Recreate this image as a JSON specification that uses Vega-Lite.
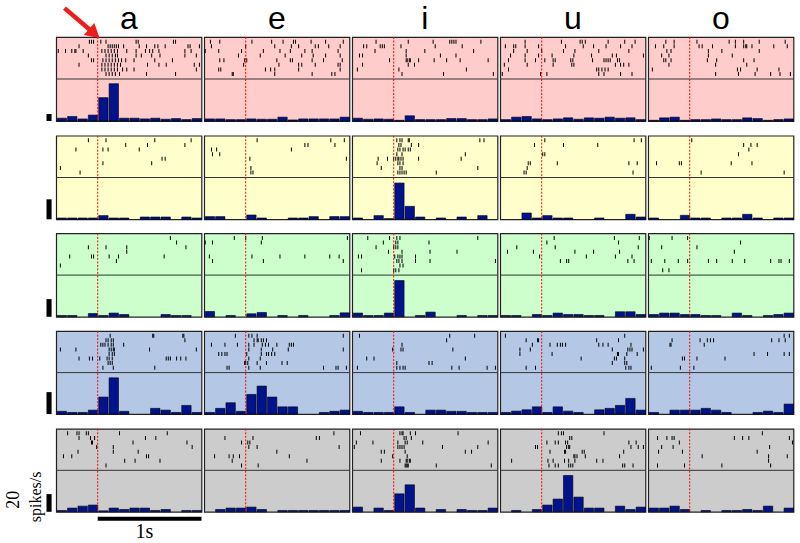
{
"$schema":"https://vega.github.io/schema/vega-lite/v6.json",
"autosize":{"type":"pad"},
"padding":{"left":3.2,"top":2,"right":2,"bottom":2},
"background":"white",
"spacing":10.7,
"datasets":{
"d1":[
{"v":"a","p":1},{"v":"e","p":1},{"v":"i","p":1},{"v":"u","p":1},{"v":"o","p":1},
{"v":"a","c":-0.35,"h":8},{"v":"a","c":-0.25,"h":13},{"v":"a","c":-0.15,"h":6},{"v":"a","c":-0.05,"h":17},{"v":"a","c":0.05,"h":67},{"v":"a","c":0.15,"h":107},{"v":"a","c":0.25,"h":8},{"v":"a","c":0.35,"h":8},{"v":"a","c":0.45,"h":6},{"v":"a","c":0.55,"h":8},{"v":"a","c":0.65,"h":5},{"v":"a","c":0.75,"h":7},{"v":"a","c":0.85,"h":4},{"v":"a","c":0.95,"h":7},
{"v":"e","c":-0.35,"h":6},{"v":"e","c":-0.25,"h":6},{"v":"e","c":-0.15,"h":4},{"v":"e","c":-0.05,"h":4},{"v":"e","c":0.05,"h":6},{"v":"e","c":0.15,"h":5},{"v":"e","c":0.25,"h":5},{"v":"e","c":0.35,"h":11},{"v":"e","c":0.45,"h":3},{"v":"e","c":0.55,"h":6},{"v":"e","c":0.65,"h":6},{"v":"e","c":0.75,"h":6},{"v":"e","c":0.85,"h":6},{"v":"e","c":0.95,"h":11},
{"v":"i","c":-0.35,"h":8},{"v":"i","c":-0.25,"h":5},{"v":"i","c":-0.15,"h":6},{"v":"i","c":-0.05,"h":5},{"v":"i","c":0.05,"h":2},{"v":"i","c":0.15,"h":15},{"v":"i","c":0.25,"h":4},{"v":"i","c":0.35,"h":4},{"v":"i","c":0.45,"h":4},{"v":"i","c":0.55,"h":7},{"v":"i","c":0.65,"h":7},{"v":"i","c":0.75,"h":4},{"v":"i","c":0.85,"h":4},{"v":"i","c":0.95,"h":6},
{"v":"u","c":-0.35,"h":4},{"v":"u","c":-0.25,"h":11},{"v":"u","c":-0.15,"h":13},{"v":"u","c":-0.05,"h":6},{"v":"u","c":0.05,"h":4},{"v":"u","c":0.15,"h":6},{"v":"u","c":0.25,"h":9},{"v":"u","c":0.35,"h":5},{"v":"u","c":0.45,"h":9},{"v":"u","c":0.55,"h":8},{"v":"u","c":0.65,"h":11},{"v":"u","c":0.75,"h":8},{"v":"u","c":0.85,"h":9},{"v":"u","c":0.95,"h":4},
{"v":"o","c":-0.35,"h":2},{"v":"o","c":-0.25,"h":9},{"v":"o","c":-0.15,"h":11},{"v":"o","c":-0.05,"h":2},{"v":"o","c":0.05,"h":4},{"v":"o","c":0.15,"h":4},{"v":"o","c":0.25,"h":6},{"v":"o","c":0.35,"h":4},{"v":"o","c":0.45,"h":4},{"v":"o","c":0.55,"h":9},{"v":"o","c":0.65,"h":7},{"v":"o","c":0.75,"h":2},{"v":"o","c":0.85,"h":4},{"v":"o","c":0.95,"h":6},
{"v":"a","n":1,"t":-0.08},{"v":"a","n":1,"t":-0.06},{"v":"a","n":1,"t":-0.04},{"v":"a","n":1,"t":0.03},{"v":"a","n":1,"t":0.08},{"v":"a","n":1,"t":0.37},{"v":"a","n":1,"t":0.39},{"v":"a","n":1,"t":0.73},{"v":"a","n":1,"t":0.75},
{"v":"a","n":2,"t":-0.18},{"v":"a","n":2,"t":0.1},{"v":"a","n":2,"t":0.12},{"v":"a","n":2,"t":0.14},{"v":"a","n":2,"t":0.16},{"v":"a","n":2,"t":0.18},{"v":"a","n":2,"t":0.2},{"v":"a","n":2,"t":0.25},{"v":"a","n":2,"t":0.4},{"v":"a","n":2,"t":0.47},{"v":"a","n":2,"t":0.55},{"v":"a","n":2,"t":0.58},{"v":"a","n":2,"t":0.65},{"v":"a","n":2,"t":0.87},{"v":"a","n":2,"t":0.89},{"v":"a","n":2,"t":0.98},
{"v":"a","n":3,"t":-0.38},{"v":"a","n":3,"t":-0.31},{"v":"a","n":3,"t":-0.25},{"v":"a","n":3,"t":-0.22},{"v":"a","n":3,"t":-0.21},{"v":"a","n":3,"t":-0.14},{"v":"a","n":3,"t":0.04},{"v":"a","n":3,"t":0.07},{"v":"a","n":3,"t":0.1},{"v":"a","n":3,"t":0.13},{"v":"a","n":3,"t":0.16},{"v":"a","n":3,"t":0.19},{"v":"a","n":3,"t":0.28},{"v":"a","n":3,"t":0.37},{"v":"a","n":3,"t":0.46},{"v":"a","n":3,"t":0.5},{"v":"a","n":3,"t":0.53},{"v":"a","n":3,"t":0.59},{"v":"a","n":3,"t":0.84},{"v":"a","n":3,"t":0.9},
{"v":"a","n":4,"t":-0.09},{"v":"a","n":4,"t":0.08},{"v":"a","n":4,"t":0.11},{"v":"a","n":4,"t":0.14},{"v":"a","n":4,"t":0.17},{"v":"a","n":4,"t":0.19},{"v":"a","n":4,"t":0.37},{"v":"a","n":4,"t":0.42},{"v":"a","n":4,"t":0.52},{"v":"a","n":4,"t":0.6},{"v":"a","n":4,"t":0.84},{"v":"a","n":4,"t":0.95},
{"v":"a","n":5,"t":-0.06},{"v":"a","n":5,"t":-0.04},{"v":"a","n":5,"t":0.05},{"v":"a","n":5,"t":0.08},{"v":"a","n":5,"t":0.11},{"v":"a","n":5,"t":0.14},{"v":"a","n":5,"t":0.17},{"v":"a","n":5,"t":0.2},{"v":"a","n":5,"t":0.23},{"v":"a","n":5,"t":0.27},{"v":"a","n":5,"t":0.35},{"v":"a","n":5,"t":0.55},{"v":"a","n":5,"t":0.72},
{"v":"a","n":6,"t":-0.18},{"v":"a","n":6,"t":0.04},{"v":"a","n":6,"t":0.07},{"v":"a","n":6,"t":0.1},{"v":"a","n":6,"t":0.13},{"v":"a","n":6,"t":0.16},{"v":"a","n":6,"t":0.19},{"v":"a","n":6,"t":0.22},{"v":"a","n":6,"t":0.48},{"v":"a","n":6,"t":0.59},{"v":"a","n":6,"t":0.66},{"v":"a","n":6,"t":0.93},{"v":"a","n":6,"t":0.98},
{"v":"a","n":7,"t":0.04},{"v":"a","n":7,"t":0.07},{"v":"a","n":7,"t":0.1},{"v":"a","n":7,"t":0.13},{"v":"a","n":7,"t":0.16},{"v":"a","n":7,"t":0.19},{"v":"a","n":7,"t":0.24},{"v":"a","n":7,"t":0.28},{"v":"a","n":7,"t":0.35},{"v":"a","n":7,"t":0.95},
{"v":"a","n":8,"t":0.08},{"v":"a","n":8,"t":0.11},{"v":"a","n":8,"t":0.14},{"v":"a","n":8,"t":0.17},{"v":"a","n":8,"t":0.21},{"v":"a","n":8,"t":0.47},{"v":"a","n":8,"t":0.75},
{"v":"e","n":1,"t":-0.34},{"v":"e","n":1,"t":-0.25},{"v":"e","n":1,"t":0.06},{"v":"e","n":1,"t":0.25},{"v":"e","n":1,"t":0.36},{"v":"e","n":1,"t":0.46},{"v":"e","n":1,"t":0.48},{"v":"e","n":1,"t":0.63},{"v":"e","n":1,"t":0.77},{"v":"e","n":1,"t":0.94},
{"v":"e","n":2,"t":-0.33},{"v":"e","n":2,"t":0.0},{"v":"e","n":2,"t":0.28},{"v":"e","n":2,"t":0.44},{"v":"e","n":2,"t":0.51},{"v":"e","n":2,"t":0.67},{"v":"e","n":2,"t":0.7},{"v":"e","n":2,"t":0.8},{"v":"e","n":2,"t":0.91},
{"v":"e","n":3,"t":-0.39},{"v":"e","n":3,"t":-0.26},{"v":"e","n":3,"t":-0.04},{"v":"e","n":3,"t":0.17},{"v":"e","n":3,"t":0.33},{"v":"e","n":3,"t":0.43},{"v":"e","n":3,"t":0.57},{"v":"e","n":3,"t":0.64},{"v":"e","n":3,"t":0.89},
{"v":"e","n":4,"t":-0.07},{"v":"e","n":4,"t":0.14},{"v":"e","n":4,"t":0.38},{"v":"e","n":4,"t":0.54},{"v":"e","n":4,"t":0.65},{"v":"e","n":4,"t":0.77},{"v":"e","n":4,"t":0.91},
{"v":"e","n":5,"t":-0.25},{"v":"e","n":5,"t":-0.21},{"v":"e","n":5,"t":-0.01},{"v":"e","n":5,"t":0.01},{"v":"e","n":5,"t":0.3},{"v":"e","n":5,"t":0.43},{"v":"e","n":5,"t":0.45},{"v":"e","n":5,"t":0.64},{"v":"e","n":5,"t":0.75},{"v":"e","n":5,"t":0.93},
{"v":"e","n":6,"t":-0.02},{"v":"e","n":6,"t":0.32},{"v":"e","n":6,"t":0.51},{"v":"e","n":6,"t":0.54},{"v":"e","n":6,"t":0.67},{"v":"e","n":6,"t":0.89},{"v":"e","n":6,"t":0.91},
{"v":"e","n":7,"t":-0.26},{"v":"e","n":7,"t":-0.24},{"v":"e","n":7,"t":0.19},{"v":"e","n":7,"t":0.24},{"v":"e","n":7,"t":0.28},{"v":"e","n":7,"t":0.51},{"v":"e","n":7,"t":0.91},
{"v":"e","n":8,"t":-0.13},{"v":"e","n":8,"t":-0.12},{"v":"e","n":8,"t":0.28},{"v":"e","n":8,"t":0.64},{"v":"e","n":8,"t":0.83},{"v":"e","n":8,"t":0.86},
{"v":"i","n":1,"t":-0.17},{"v":"i","n":1,"t":0.14},{"v":"i","n":1,"t":0.38},{"v":"i","n":1,"t":0.54},{"v":"i","n":1,"t":0.56},{"v":"i","n":1,"t":0.58},{"v":"i","n":1,"t":0.6},{"v":"i","n":1,"t":0.84},
{"v":"i","n":2,"t":-0.29},{"v":"i","n":2,"t":-0.26},{"v":"i","n":2,"t":-0.13},{"v":"i","n":2,"t":-0.11},{"v":"i","n":2,"t":-0.09},{"v":"i","n":2,"t":0.07},{"v":"i","n":2,"t":0.4},{"v":"i","n":2,"t":0.66},
{"v":"i","n":3,"t":-0.18},{"v":"i","n":3,"t":0.12},{"v":"i","n":3,"t":0.3},{"v":"i","n":3,"t":0.77},
{"v":"i","n":4,"t":-0.33},{"v":"i","n":4,"t":-0.3},{"v":"i","n":4,"t":0.12},{"v":"i","n":4,"t":0.45},{"v":"i","n":4,"t":0.6},
{"v":"i","n":5,"t":-0.04},{"v":"i","n":5,"t":0.12},{"v":"i","n":5,"t":0.13},{"v":"i","n":5,"t":0.15},{"v":"i","n":5,"t":0.16},{"v":"i","n":5,"t":0.24},{"v":"i","n":5,"t":0.39},{"v":"i","n":5,"t":0.51},{"v":"i","n":5,"t":0.64},{"v":"i","n":5,"t":0.91},
{"v":"i","n":6,"t":-0.3},{"v":"i","n":6,"t":0.14},{"v":"i","n":6,"t":0.2},
{"v":"i","n":7,"t":-0.35},{"v":"i","n":7,"t":0.05},{"v":"i","n":7,"t":0.7},
{"v":"i","n":8,"t":0.08},{"v":"i","n":8,"t":0.48},{"v":"i","n":8,"t":0.96},
{"v":"u","n":1,"t":-0.16},{"v":"u","n":1,"t":0.19},{"v":"u","n":1,"t":0.37},{"v":"u","n":1,"t":0.39},{"v":"u","n":1,"t":0.42},{"v":"u","n":1,"t":0.64},{"v":"u","n":1,"t":0.8},{"v":"u","n":1,"t":0.9},
{"v":"u","n":2,"t":-0.35},{"v":"u","n":2,"t":-0.27},{"v":"u","n":2,"t":-0.25},{"v":"u","n":2,"t":-0.16},{"v":"u","n":2,"t":-0.03},{"v":"u","n":2,"t":0.23},{"v":"u","n":2,"t":0.4},{"v":"u","n":2,"t":0.5},{"v":"u","n":2,"t":0.62},{"v":"u","n":2,"t":0.76},{"v":"u","n":2,"t":0.87},
{"v":"u","n":3,"t":-0.27},{"v":"u","n":3,"t":-0.14},{"v":"u","n":3,"t":0.0},{"v":"u","n":3,"t":0.21},{"v":"u","n":3,"t":0.32},{"v":"u","n":3,"t":0.55},{"v":"u","n":3,"t":0.84},
{"v":"u","n":4,"t":-0.3},{"v":"u","n":4,"t":-0.16},{"v":"u","n":4,"t":-0.03},{"v":"u","n":4,"t":0.1},{"v":"u","n":4,"t":0.31},{"v":"u","n":4,"t":0.48},{"v":"u","n":4,"t":0.68},{"v":"u","n":4,"t":0.72},{"v":"u","n":4,"t":0.98},
{"v":"u","n":5,"t":-0.32},{"v":"u","n":5,"t":-0.16},{"v":"u","n":5,"t":-0.06},{"v":"u","n":5,"t":0.03},{"v":"u","n":5,"t":0.11},{"v":"u","n":5,"t":0.13},{"v":"u","n":5,"t":0.28},{"v":"u","n":5,"t":0.3},{"v":"u","n":5,"t":0.49},{"v":"u","n":5,"t":0.6},{"v":"u","n":5,"t":0.62},{"v":"u","n":5,"t":0.64},{"v":"u","n":5,"t":0.66},{"v":"u","n":5,"t":0.73},{"v":"u","n":5,"t":0.75},
{"v":"u","n":6,"t":-0.36},{"v":"u","n":6,"t":-0.14},{"v":"u","n":6,"t":0.11},{"v":"u","n":6,"t":0.29},{"v":"u","n":6,"t":0.31},{"v":"u","n":6,"t":0.71},{"v":"u","n":6,"t":0.76},{"v":"u","n":6,"t":0.79},{"v":"u","n":6,"t":0.84},
{"v":"u","n":7,"t":-0.32},{"v":"u","n":7,"t":0.53},{"v":"u","n":7,"t":0.55},{"v":"u","n":7,"t":0.58},{"v":"u","n":7,"t":0.61},{"v":"u","n":7,"t":0.64},
{"v":"u","n":8,"t":-0.38},{"v":"u","n":8,"t":-0.01},{"v":"u","n":8,"t":0.05},{"v":"u","n":8,"t":0.55},{"v":"u","n":8,"t":0.6},{"v":"u","n":8,"t":0.76},{"v":"u","n":8,"t":0.87},
{"v":"o","n":1,"t":-0.23},{"v":"o","n":1,"t":-0.15},{"v":"o","n":1,"t":0.07},{"v":"o","n":1,"t":0.38},{"v":"o","n":1,"t":0.44},{"v":"o","n":1,"t":0.52},{"v":"o","n":1,"t":0.67},{"v":"o","n":1,"t":0.92},
{"v":"o","n":2,"t":-0.33},{"v":"o","n":2,"t":-0.25},{"v":"o","n":2,"t":-0.15},{"v":"o","n":2,"t":0.09},{"v":"o","n":2,"t":0.12},{"v":"o","n":2,"t":0.22},{"v":"o","n":2,"t":0.44},{"v":"o","n":2,"t":0.52},{"v":"o","n":2,"t":0.54},{"v":"o","n":2,"t":0.55},{"v":"o","n":2,"t":0.6},{"v":"o","n":2,"t":0.81},{"v":"o","n":2,"t":0.94},
{"v":"o","n":3,"t":-0.22},{"v":"o","n":3,"t":-0.18},{"v":"o","n":3,"t":0.18},{"v":"o","n":3,"t":0.31},{"v":"o","n":3,"t":0.67},
{"v":"o","n":4,"t":-0.27},{"v":"o","n":4,"t":-0.2},{"v":"o","n":4,"t":0.18},{"v":"o","n":4,"t":0.41},
{"v":"o","n":5,"t":-0.25},{"v":"o","n":5,"t":-0.23},{"v":"o","n":5,"t":-0.18},{"v":"o","n":5,"t":0.17},{"v":"o","n":5,"t":0.26},{"v":"o","n":5,"t":0.52},{"v":"o","n":5,"t":0.62},
{"v":"o","n":6,"t":-0.2},{"v":"o","n":6,"t":0.25},{"v":"o","n":6,"t":0.55},
{"v":"o","n":7,"t":-0.36},{"v":"o","n":7,"t":0.46},{"v":"o","n":7,"t":0.49},{"v":"o","n":7,"t":0.65},{"v":"o","n":7,"t":0.86},
{"v":"o","n":8,"t":0.25},{"v":"o","n":8,"t":0.47},{"v":"o","n":8,"t":0.63},{"v":"o","n":8,"t":0.78},{"v":"o","n":8,"t":0.87},{"v":"o","n":8,"t":0.97}
],
"d2":[
{"v":"a","p":1},{"v":"e","p":1},{"v":"i","p":1},{"v":"u","p":1},{"v":"o","p":1},
{"v":"a","c":-0.35,"h":1.3},{"v":"a","c":-0.25,"h":1.3},{"v":"a","c":-0.15,"h":1.3},{"v":"a","c":-0.05,"h":1.3},{"v":"a","c":0.05,"h":3.7},{"v":"a","c":0.15,"h":1.3},{"v":"a","c":0.25,"h":1.3},{"v":"a","c":0.45,"h":2.3},{"v":"a","c":0.55,"h":2.3},{"v":"a","c":0.65,"h":2.3},{"v":"a","c":0.85,"h":2.3},{"v":"a","c":0.95,"h":1.3},
{"v":"e","c":-0.35,"h":2.7},{"v":"e","c":-0.25,"h":2.7},{"v":"e","c":0.05,"h":4.3},{"v":"e","c":0.15,"h":1.3},{"v":"e","c":0.45,"h":1.3},{"v":"e","c":0.55,"h":1.3},{"v":"e","c":0.65,"h":2.7},{"v":"e","c":0.85,"h":2.7},{"v":"e","c":0.95,"h":2.7},
{"v":"i","c":-0.35,"h":1.3},{"v":"i","c":-0.15,"h":3.7},{"v":"i","c":-0.05,"h":0.7},{"v":"i","c":0.05,"h":36.3},{"v":"i","c":0.15,"h":13},{"v":"i","c":0.25,"h":2.3},{"v":"i","c":0.45,"h":1.3},{"v":"i","c":0.65,"h":2.3},{"v":"i","c":0.85,"h":3.7},
{"v":"u","c":-0.15,"h":6.3},{"v":"u","c":-0.05,"h":1.3},{"v":"u","c":0.05,"h":3.7},{"v":"u","c":0.15,"h":1.3},{"v":"u","c":0.25,"h":1.3},{"v":"u","c":0.55,"h":1.3},{"v":"u","c":0.85,"h":5},{"v":"u","c":0.95,"h":2.3},
{"v":"o","c":-0.35,"h":1.3},{"v":"o","c":-0.05,"h":4},{"v":"o","c":0.05,"h":1.3},{"v":"o","c":0.15,"h":1.3},{"v":"o","c":0.35,"h":1.3},{"v":"o","c":0.45,"h":1.3},{"v":"o","c":0.55,"h":5},{"v":"o","c":0.65,"h":1.3},{"v":"o","c":0.85,"h":1.3},{"v":"o","c":0.95,"h":1.3},
{"v":"a","n":1,"t":-0.09},{"v":"a","n":1,"t":0.08},{"v":"a","n":1,"t":0.55},{"v":"a","n":1,"t":0.9},
{"v":"a","n":2,"t":0.27},{"v":"a","n":2,"t":0.48},{"v":"a","n":2,"t":0.84},
{"v":"a","n":3,"t":-0.21},{"v":"a","n":3,"t":0.05},{"v":"a","n":3,"t":0.1},{"v":"a","n":3,"t":0.4},
{"v":"a","n":5,"t":0.62},{"v":"a","n":5,"t":0.65},
{"v":"a","n":6,"t":0.05},{"v":"a","n":6,"t":0.52},
{"v":"a","n":7,"t":-0.36},{"v":"a","n":8,"t":-0.17},
{"v":"e","n":1,"t":0.11},{"v":"e","n":1,"t":0.82},{"v":"e","n":1,"t":0.95},
{"v":"e","n":2,"t":0.57},{"v":"e","n":2,"t":0.6},{"v":"e","n":2,"t":0.86},
{"v":"e","n":3,"t":-0.33},{"v":"e","n":3,"t":-0.28},{"v":"e","n":3,"t":0.44},
{"v":"e","n":4,"t":-0.32},{"v":"e","n":4,"t":-0.25},
{"v":"e","n":5,"t":0.04},{"v":"e","n":5,"t":0.97},
{"v":"e","n":7,"t":0.05},{"v":"e","n":8,"t":0.05},{"v":"e","n":8,"t":0.07},
{"v":"i","n":1,"t":0.03},{"v":"i","n":1,"t":0.06},{"v":"i","n":1,"t":0.08},{"v":"i","n":1,"t":0.14},{"v":"i","n":1,"t":0.15},{"v":"i","n":1,"t":0.83},{"v":"i","n":1,"t":0.87},
{"v":"i","n":2,"t":0.05},{"v":"i","n":2,"t":0.07},{"v":"i","n":2,"t":0.17},{"v":"i","n":2,"t":0.24},
{"v":"i","n":3,"t":0.04},{"v":"i","n":3,"t":0.06},{"v":"i","n":3,"t":0.09},{"v":"i","n":3,"t":0.11},{"v":"i","n":3,"t":0.14},{"v":"i","n":3,"t":0.16},
{"v":"i","n":4,"t":0.03},{"v":"i","n":4,"t":0.08},{"v":"i","n":4,"t":0.69},
{"v":"i","n":5,"t":-0.15},{"v":"i","n":5,"t":-0.06},{"v":"i","n":5,"t":0.0},{"v":"i","n":5,"t":0.02},{"v":"i","n":5,"t":0.04},{"v":"i","n":5,"t":0.05},{"v":"i","n":5,"t":0.07},{"v":"i","n":5,"t":0.09},{"v":"i","n":5,"t":0.24},{"v":"i","n":5,"t":0.65},
{"v":"i","n":6,"t":-0.16},{"v":"i","n":6,"t":0.04},{"v":"i","n":6,"t":0.06},{"v":"i","n":6,"t":0.09},
{"v":"i","n":7,"t":-0.12},{"v":"i","n":7,"t":0.06},{"v":"i","n":7,"t":0.08},{"v":"i","n":7,"t":0.81},
{"v":"i","n":8,"t":0.04},{"v":"i","n":8,"t":0.06},{"v":"i","n":8,"t":0.08},{"v":"i","n":8,"t":0.1},{"v":"i","n":8,"t":0.12},{"v":"i","n":8,"t":0.41},
{"v":"u","n":1,"t":0.03},{"v":"u","n":1,"t":0.89},{"v":"u","n":1,"t":0.96},
{"v":"u","n":2,"t":-0.07},{"v":"u","n":2,"t":0.21},{"v":"u","n":2,"t":0.54},
{"v":"u","n":4,"t":0.01},{"v":"u","n":4,"t":0.03},
{"v":"u","n":6,"t":-0.13},{"v":"u","n":6,"t":-0.11},{"v":"u","n":6,"t":0.15},{"v":"u","n":6,"t":0.84},{"v":"u","n":6,"t":0.92},
{"v":"u","n":7,"t":-0.14},
{"v":"u","n":8,"t":-0.17},{"v":"u","n":8,"t":-0.15},{"v":"u","n":8,"t":0.88},
{"v":"o","n":1,"t":0.02},
{"v":"o","n":2,"t":0.52},{"v":"o","n":2,"t":0.59},{"v":"o","n":2,"t":0.65},
{"v":"o","n":3,"t":0.57},{"v":"o","n":4,"t":0.47},
{"v":"o","n":6,"t":-0.32},{"v":"o","n":6,"t":-0.1},{"v":"o","n":6,"t":-0.08},{"v":"o","n":6,"t":0.4},{"v":"o","n":6,"t":0.6},
{"v":"o","n":8,"t":0.11},{"v":"o","n":8,"t":0.91}
],
"d3":[
{"v":"a","p":1},{"v":"e","p":1},{"v":"i","p":1},{"v":"u","p":1},{"v":"o","p":1},
{"v":"a","c":-0.35,"h":1.5},{"v":"a","c":-0.25,"h":1.5},{"v":"a","c":-0.05,"h":3.7},{"v":"a","c":0.05,"h":1.5},{"v":"a","c":0.15,"h":4.2},{"v":"a","c":0.25,"h":2.6},{"v":"a","c":0.65,"h":2.6},{"v":"a","c":0.75,"h":1.5},{"v":"a","c":0.85,"h":1.5},
{"v":"e","c":-0.35,"h":6},{"v":"e","c":-0.15,"h":1.5},{"v":"e","c":0.05,"h":3.4},{"v":"e","c":0.15,"h":4.9},{"v":"e","c":0.35,"h":1.5},{"v":"e","c":0.55,"h":1.5},{"v":"e","c":0.85,"h":1.5},{"v":"e","c":0.95,"h":4.5},
{"v":"i","c":-0.35,"h":4.2},{"v":"i","c":-0.25,"h":1.5},{"v":"i","c":-0.15,"h":1.5},{"v":"i","c":-0.05,"h":4.2},{"v":"i","c":0.05,"h":41},{"v":"i","c":0.25,"h":1.5},{"v":"i","c":0.35,"h":5.3},{"v":"i","c":0.65,"h":1.5},{"v":"i","c":0.85,"h":1.5},{"v":"i","c":0.95,"h":1.5},
{"v":"u","c":-0.35,"h":1.5},{"v":"u","c":-0.25,"h":1.5},{"v":"u","c":-0.05,"h":2.6},{"v":"u","c":0.05,"h":1.5},{"v":"u","c":0.15,"h":4.2},{"v":"u","c":0.25,"h":2.6},{"v":"u","c":0.35,"h":2.6},{"v":"u","c":0.45,"h":1.5},{"v":"u","c":0.55,"h":1.5},{"v":"u","c":0.75,"h":5.7},{"v":"u","c":0.85,"h":5.7},{"v":"u","c":0.95,"h":2.6},
{"v":"o","c":-0.35,"h":2.6},{"v":"o","c":-0.25,"h":4.2},{"v":"o","c":-0.15,"h":4.2},{"v":"o","c":-0.05,"h":2.6},{"v":"o","c":0.05,"h":2.6},{"v":"o","c":0.15,"h":1.5},{"v":"o","c":0.25,"h":1.5},{"v":"o","c":0.45,"h":4.2},{"v":"o","c":0.55,"h":1.5},{"v":"o","c":0.75,"h":1.5},{"v":"o","c":0.85,"h":2.6},{"v":"o","c":0.95,"h":4.2},
{"v":"a","n":1,"t":0.7},{"v":"a","n":2,"t":0.76},
{"v":"a","n":3,"t":-0.09},{"v":"a","n":3,"t":0.08},{"v":"a","n":3,"t":0.28},{"v":"a","n":3,"t":0.85},
{"v":"a","n":4,"t":0.28},
{"v":"a","n":5,"t":-0.27},{"v":"a","n":5,"t":-0.06},{"v":"a","n":5,"t":-0.04},{"v":"a","n":5,"t":0.11},{"v":"a","n":5,"t":0.2},{"v":"a","n":5,"t":0.64},
{"v":"a","n":6,"t":0.18},{"v":"a","n":7,"t":-0.36},
{"v":"e","n":1,"t":-0.11},{"v":"e","n":1,"t":0.0},{"v":"e","n":1,"t":0.16},{"v":"e","n":1,"t":0.98},
{"v":"e","n":2,"t":-0.39},{"v":"e","n":2,"t":-0.32},{"v":"e","n":2,"t":0.15},
{"v":"e","n":5,"t":-0.35},{"v":"e","n":5,"t":0.06},{"v":"e","n":5,"t":0.33},{"v":"e","n":5,"t":0.57},{"v":"e","n":5,"t":0.81},{"v":"e","n":5,"t":0.9},
{"v":"e","n":6,"t":-0.32},{"v":"e","n":6,"t":0.17},{"v":"e","n":6,"t":0.94},
{"v":"i","n":1,"t":-0.25},{"v":"i","n":1,"t":-0.04},{"v":"i","n":1,"t":0.03},{"v":"i","n":1,"t":0.06},{"v":"i","n":1,"t":0.81},
{"v":"i","n":2,"t":-0.1},{"v":"i","n":2,"t":0.02},{"v":"i","n":2,"t":0.04},{"v":"i","n":2,"t":0.34},
{"v":"i","n":3,"t":-0.17},{"v":"i","n":3,"t":0.0},{"v":"i","n":3,"t":0.02},{"v":"i","n":3,"t":0.04},
{"v":"i","n":4,"t":-0.05},{"v":"i","n":4,"t":0.08},{"v":"i","n":4,"t":0.35},{"v":"i","n":4,"t":0.61},
{"v":"i","n":5,"t":-0.34},{"v":"i","n":5,"t":-0.31},{"v":"i","n":5,"t":0.01},{"v":"i","n":5,"t":0.04},{"v":"i","n":5,"t":0.06},{"v":"i","n":5,"t":0.08},{"v":"i","n":5,"t":0.21},
{"v":"i","n":6,"t":0.03},{"v":"i","n":6,"t":0.05},{"v":"i","n":6,"t":0.08},{"v":"i","n":6,"t":0.21},{"v":"i","n":6,"t":0.35},{"v":"i","n":6,"t":0.98},
{"v":"i","n":7,"t":0.06},{"v":"i","n":7,"t":0.09},
{"v":"i","n":8,"t":-0.31},{"v":"i","n":8,"t":0.0},{"v":"i","n":8,"t":0.02},{"v":"i","n":8,"t":0.05},
{"v":"u","n":1,"t":0.12},{"v":"u","n":1,"t":0.7},{"v":"u","n":1,"t":0.94},
{"v":"u","n":2,"t":0.05},{"v":"u","n":2,"t":0.74},
{"v":"u","n":3,"t":-0.24},{"v":"u","n":3,"t":0.13},{"v":"u","n":3,"t":0.93},
{"v":"u","n":4,"t":-0.33},{"v":"u","n":4,"t":-0.08},{"v":"u","n":4,"t":0.32},{"v":"u","n":4,"t":0.5},{"v":"u","n":4,"t":0.75},
{"v":"u","n":5,"t":-0.02},{"v":"u","n":5,"t":0.43},{"v":"u","n":5,"t":0.71},{"v":"u","n":5,"t":0.87},
{"v":"u","n":6,"t":0.18},{"v":"u","n":6,"t":0.24},{"v":"u","n":6,"t":0.26},{"v":"u","n":6,"t":0.83},{"v":"u","n":6,"t":0.89},
{"v":"o","n":1,"t":-0.39},{"v":"o","n":1,"t":-0.17},{"v":"o","n":1,"t":-0.02},
{"v":"o","n":2,"t":0.49},
{"v":"o","n":3,"t":-0.27},{"v":"o","n":3,"t":0.07},
{"v":"o","n":4,"t":0.43},
{"v":"o","n":6,"t":-0.37},{"v":"o","n":6,"t":-0.24},{"v":"o","n":6,"t":-0.11},{"v":"o","n":6,"t":-0.02},{"v":"o","n":6,"t":0.18},{"v":"o","n":6,"t":0.26},{"v":"o","n":6,"t":0.41},{"v":"o","n":6,"t":0.53},{"v":"o","n":6,"t":0.78},{"v":"o","n":6,"t":0.86},{"v":"o","n":6,"t":0.88},{"v":"o","n":6,"t":0.96},
{"v":"o","n":8,"t":-0.26},{"v":"o","n":8,"t":-0.2}
],
"d4":[
{"v":"a","p":1},{"v":"e","p":1},{"v":"i","p":1},{"v":"u","p":1},{"v":"o","p":1},
{"v":"a","c":-0.35,"h":2.5},{"v":"a","c":-0.25,"h":1.5},{"v":"a","c":-0.15,"h":1.5},{"v":"a","c":-0.05,"h":3.6},{"v":"a","c":0.05,"h":15.5},{"v":"a","c":0.15,"h":33},{"v":"a","c":0.25,"h":2.5},{"v":"a","c":0.55,"h":5.2},{"v":"a","c":0.65,"h":3.6},{"v":"a","c":0.75,"h":1.5},{"v":"a","c":0.85,"h":7.9},{"v":"a","c":0.95,"h":1.5},
{"v":"e","c":-0.35,"h":1.5},{"v":"e","c":-0.25,"h":5.2},{"v":"e","c":-0.15,"h":10.3},{"v":"e","c":-0.05,"h":2.5},{"v":"e","c":0.05,"h":17.9},{"v":"e","c":0.15,"h":25.5},{"v":"e","c":0.25,"h":15.5},{"v":"e","c":0.35,"h":6.6},{"v":"e","c":0.45,"h":6.6},{"v":"e","c":0.75,"h":1.5},{"v":"e","c":0.85,"h":2.5},{"v":"e","c":0.95,"h":3.6},
{"v":"i","c":-0.35,"h":2.5},{"v":"i","c":-0.25,"h":1.5},{"v":"i","c":-0.15,"h":1.5},{"v":"i","c":-0.05,"h":1.5},{"v":"i","c":0.05,"h":6.6},{"v":"i","c":0.15,"h":1.5},{"v":"i","c":0.35,"h":3.6},{"v":"i","c":0.45,"h":3.6},{"v":"i","c":0.55,"h":2.5},{"v":"i","c":0.65,"h":2.5},{"v":"i","c":0.75,"h":1.5},{"v":"i","c":0.85,"h":1.5},{"v":"i","c":0.95,"h":1.5},
{"v":"u","c":-0.35,"h":1.5},{"v":"u","c":-0.25,"h":2.7},{"v":"u","c":-0.15,"h":3.9},{"v":"u","c":-0.05,"h":6.6},{"v":"u","c":0.05,"h":1.5},{"v":"u","c":0.15,"h":6.6},{"v":"u","c":0.25,"h":2.7},{"v":"u","c":0.35,"h":1.5},{"v":"u","c":0.55,"h":3.9},{"v":"u","c":0.65,"h":5.2},{"v":"u","c":0.75,"h":7.9},{"v":"u","c":0.85,"h":14.3},{"v":"u","c":0.95,"h":3.6},
{"v":"o","c":-0.35,"h":1.5},{"v":"o","c":-0.15,"h":3.6},{"v":"o","c":-0.05,"h":3.6},{"v":"o","c":0.05,"h":3.6},{"v":"o","c":0.15,"h":5.2},{"v":"o","c":0.25,"h":3.6},{"v":"o","c":0.35,"h":1.5},{"v":"o","c":0.65,"h":1.5},{"v":"o","c":0.75,"h":2.7},{"v":"o","c":0.85,"h":1.5},{"v":"o","c":0.95,"h":9.1},
{"v":"a","n":1,"t":0.12},{"v":"a","n":1,"t":0.53},{"v":"a","n":1,"t":0.54},{"v":"a","n":1,"t":0.82},{"v":"a","n":1,"t":0.83},
{"v":"a","n":2,"t":0.08},{"v":"a","n":2,"t":0.1},{"v":"a","n":2,"t":0.13},{"v":"a","n":2,"t":0.15},{"v":"a","n":2,"t":0.84},
{"v":"a","n":3,"t":0.03},{"v":"a","n":3,"t":0.05},{"v":"a","n":3,"t":0.07},{"v":"a","n":3,"t":0.1},{"v":"a","n":3,"t":0.13},{"v":"a","n":3,"t":0.15},{"v":"a","n":3,"t":0.25},
{"v":"a","n":4,"t":-0.36},{"v":"a","n":4,"t":-0.21},{"v":"a","n":4,"t":0.11},{"v":"a","n":4,"t":0.13},{"v":"a","n":4,"t":0.15},{"v":"a","n":4,"t":0.16},{"v":"a","n":4,"t":0.5},{"v":"a","n":4,"t":0.95},
{"v":"a","n":5,"t":0.11},{"v":"a","n":5,"t":0.14},{"v":"a","n":5,"t":0.16},
{"v":"a","n":6,"t":-0.18},{"v":"a","n":6,"t":-0.08},{"v":"a","n":6,"t":-0.05},{"v":"a","n":6,"t":0.02},{"v":"a","n":6,"t":0.09},{"v":"a","n":6,"t":0.11},{"v":"a","n":6,"t":0.14},{"v":"a","n":6,"t":0.66},{"v":"a","n":6,"t":0.68},{"v":"a","n":6,"t":0.7},{"v":"a","n":6,"t":0.76},{"v":"a","n":6,"t":0.8},{"v":"a","n":6,"t":0.85},
{"v":"a","n":7,"t":0.1},{"v":"a","n":7,"t":0.12},{"v":"a","n":7,"t":0.14},
{"v":"a","n":8,"t":0.05},{"v":"a","n":8,"t":0.15},{"v":"a","n":8,"t":0.55},
{"v":"e","n":1,"t":-0.1},{"v":"e","n":1,"t":0.03},{"v":"e","n":1,"t":0.06},{"v":"e","n":1,"t":0.11},{"v":"e","n":1,"t":0.94},
{"v":"e","n":2,"t":0.08},{"v":"e","n":2,"t":0.11},{"v":"e","n":2,"t":0.12},{"v":"e","n":2,"t":0.15},{"v":"e","n":2,"t":0.17},{"v":"e","n":2,"t":0.2},
{"v":"e","n":3,"t":-0.33},{"v":"e","n":3,"t":-0.2},{"v":"e","n":3,"t":-0.08},{"v":"e","n":3,"t":0.03},{"v":"e","n":3,"t":0.08},{"v":"e","n":3,"t":0.16},{"v":"e","n":3,"t":0.19},{"v":"e","n":3,"t":0.22},{"v":"e","n":3,"t":0.3},{"v":"e","n":3,"t":0.42},{"v":"e","n":3,"t":0.44},{"v":"e","n":3,"t":0.46},
{"v":"e","n":4,"t":0.03},{"v":"e","n":4,"t":0.15},{"v":"e","n":4,"t":0.26},{"v":"e","n":4,"t":0.41},{"v":"e","n":4,"t":0.94},
{"v":"e","n":5,"t":-0.26},{"v":"e","n":5,"t":-0.23},{"v":"e","n":5,"t":-0.2},{"v":"e","n":5,"t":-0.18},{"v":"e","n":5,"t":0.01},{"v":"e","n":5,"t":0.15},{"v":"e","n":5,"t":0.2},{"v":"e","n":5,"t":0.22},{"v":"e","n":5,"t":0.25},{"v":"e","n":5,"t":0.28},
{"v":"e","n":6,"t":0.03},{"v":"e","n":6,"t":0.14},
{"v":"e","n":7,"t":-0.01},{"v":"e","n":7,"t":0.0},{"v":"e","n":7,"t":0.02},{"v":"e","n":7,"t":0.11},{"v":"e","n":7,"t":0.2},{"v":"e","n":7,"t":0.35},{"v":"e","n":7,"t":0.4},
{"v":"e","n":8,"t":-0.18},{"v":"e","n":8,"t":-0.16},{"v":"e","n":8,"t":0.03},{"v":"e","n":8,"t":0.14},{"v":"e","n":8,"t":0.75},{"v":"e","n":8,"t":0.87},{"v":"e","n":8,"t":0.89},{"v":"e","n":8,"t":0.97},
{"v":"i","n":1,"t":-0.33},{"v":"i","n":1,"t":0.54},{"v":"i","n":1,"t":0.78},
{"v":"i","n":2,"t":0.51},{"v":"i","n":3,"t":0.08},
{"v":"i","n":4,"t":-0.01},{"v":"i","n":4,"t":0.07},{"v":"i","n":4,"t":0.09},{"v":"i","n":4,"t":0.57},
{"v":"i","n":6,"t":-0.26},{"v":"i","n":6,"t":-0.19},{"v":"i","n":6,"t":0.69},
{"v":"i","n":7,"t":0.03},{"v":"i","n":7,"t":0.34},{"v":"i","n":7,"t":0.37},
{"v":"i","n":8,"t":-0.35},{"v":"i","n":8,"t":0.03},{"v":"i","n":8,"t":0.06},{"v":"i","n":8,"t":0.09},{"v":"i","n":8,"t":0.11},{"v":"i","n":8,"t":0.56},{"v":"i","n":8,"t":0.63},{"v":"i","n":8,"t":0.9},{"v":"i","n":8,"t":0.98},
{"v":"u","n":1,"t":-0.35},{"v":"u","n":1,"t":0.8},
{"v":"u","n":2,"t":-0.15},{"v":"u","n":2,"t":-0.04},{"v":"u","n":2,"t":-0.03},{"v":"u","n":2,"t":0.53},{"v":"u","n":2,"t":0.74},
{"v":"u","n":3,"t":-0.09},{"v":"u","n":3,"t":0.08},{"v":"u","n":3,"t":0.15},{"v":"u","n":3,"t":0.18},{"v":"u","n":3,"t":0.2},{"v":"u","n":3,"t":0.23},{"v":"u","n":3,"t":0.55},{"v":"u","n":3,"t":0.59},{"v":"u","n":3,"t":0.64},{"v":"u","n":3,"t":0.86},
{"v":"u","n":4,"t":-0.21},{"v":"u","n":4,"t":-0.11},{"v":"u","n":4,"t":0.68},{"v":"u","n":4,"t":0.83},{"v":"u","n":4,"t":0.85},{"v":"u","n":4,"t":0.87},{"v":"u","n":4,"t":0.98},
{"v":"u","n":5,"t":-0.21},{"v":"u","n":5,"t":0.1},{"v":"u","n":5,"t":0.73},{"v":"u","n":5,"t":0.74},{"v":"u","n":5,"t":0.82},{"v":"u","n":5,"t":0.92},
{"v":"u","n":6,"t":0.38},{"v":"u","n":6,"t":0.7},{"v":"u","n":6,"t":0.72},{"v":"u","n":6,"t":0.8},
{"v":"u","n":7,"t":0.68},{"v":"u","n":7,"t":0.8},{"v":"u","n":7,"t":0.82},
{"v":"u","n":8,"t":-0.15},{"v":"u","n":8,"t":-0.06},{"v":"u","n":8,"t":0.81},{"v":"u","n":8,"t":0.84},{"v":"u","n":8,"t":0.86},
{"v":"o","n":1,"t":0.91},{"v":"o","n":1,"t":0.96},
{"v":"o","n":2,"t":-0.17},{"v":"o","n":2,"t":0.1},{"v":"o","n":2,"t":0.17},{"v":"o","n":2,"t":0.2},{"v":"o","n":2,"t":0.23},{"v":"o","n":2,"t":0.79},{"v":"o","n":2,"t":0.86},{"v":"o","n":2,"t":0.92},
{"v":"o","n":3,"t":-0.19},{"v":"o","n":3,"t":-0.18},{"v":"o","n":3,"t":0.14},
{"v":"o","n":5,"t":0.62},{"v":"o","n":5,"t":0.75},{"v":"o","n":5,"t":0.91},{"v":"o","n":5,"t":0.96},
{"v":"o","n":6,"t":-0.07},{"v":"o","n":6,"t":-0.05},{"v":"o","n":6,"t":0.07},{"v":"o","n":6,"t":0.34},
{"v":"o","n":8,"t":-0.37},{"v":"o","n":8,"t":-0.09},{"v":"o","n":8,"t":0.04}
],
"d5":[
{"v":"a","p":1},{"v":"e","p":1},{"v":"i","p":1},{"v":"u","p":1},{"v":"o","p":1},
{"v":"a","c":-0.35,"h":1.5},{"v":"a","c":-0.25,"h":4.2},{"v":"a","c":-0.15,"h":6.4},{"v":"a","c":-0.05,"h":7.6},{"v":"a","c":0.05,"h":1.1},{"v":"a","c":0.15,"h":4.2},{"v":"a","c":0.25,"h":2.6},{"v":"a","c":0.35,"h":4.2},{"v":"a","c":0.45,"h":4.2},{"v":"a","c":0.55,"h":1.5},{"v":"a","c":0.65,"h":2.6},{"v":"a","c":0.85,"h":1.5},{"v":"a","c":0.95,"h":1.5},
{"v":"e","c":-0.25,"h":2.6},{"v":"e","c":-0.15,"h":4.2},{"v":"e","c":-0.05,"h":4.2},{"v":"e","c":0.05,"h":5.3},{"v":"e","c":0.15,"h":2.6},{"v":"e","c":0.35,"h":1.5},{"v":"e","c":0.45,"h":1.5},{"v":"e","c":0.55,"h":1.5},{"v":"e","c":0.65,"h":1.5},{"v":"e","c":0.75,"h":1.5},{"v":"e","c":0.85,"h":1.5},{"v":"e","c":0.95,"h":1.5},
{"v":"i","c":-0.35,"h":5.3},{"v":"i","c":-0.15,"h":4.2},{"v":"i","c":-0.05,"h":1.5},{"v":"i","c":0.05,"h":20.3},{"v":"i","c":0.15,"h":30.5},{"v":"i","c":0.25,"h":4.2},{"v":"i","c":0.45,"h":2.6},{"v":"i","c":0.65,"h":2.6},{"v":"i","c":0.75,"h":1.5},{"v":"i","c":0.85,"h":1.5},{"v":"i","c":0.95,"h":4.2},
{"v":"u","c":-0.25,"h":1.5},{"v":"u","c":-0.05,"h":2.6},{"v":"u","c":0.05,"h":7.6},{"v":"u","c":0.15,"h":14.4},{"v":"u","c":0.25,"h":41},{"v":"u","c":0.35,"h":16.6},{"v":"u","c":0.45,"h":4.2},{"v":"u","c":0.55,"h":4.2},{"v":"u","c":0.75,"h":6.4},{"v":"u","c":0.85,"h":2.6},{"v":"u","c":0.95,"h":5.3},
{"v":"o","c":-0.35,"h":4.2},{"v":"o","c":-0.25,"h":4.2},{"v":"o","c":-0.15,"h":6.4},{"v":"o","c":-0.05,"h":2.6},{"v":"o","c":0.15,"h":1.5},{"v":"o","c":0.35,"h":1.5},{"v":"o","c":0.45,"h":1.5},{"v":"o","c":0.55,"h":2.6},{"v":"o","c":0.65,"h":1.5},{"v":"o","c":0.75,"h":6.4},{"v":"o","c":0.95,"h":4.2},
{"v":"a","n":1,"t":-0.29},{"v":"a","n":1,"t":-0.2},{"v":"a","n":1,"t":-0.18},{"v":"a","n":1,"t":-0.11},{"v":"a","n":1,"t":-0.09},{"v":"a","n":1,"t":0.21},{"v":"a","n":1,"t":0.67},
{"v":"a","n":2,"t":-0.18},{"v":"a","n":2,"t":-0.07},{"v":"a","n":2,"t":-0.03},{"v":"a","n":2,"t":0.46},{"v":"a","n":2,"t":0.56},
{"v":"a","n":3,"t":-0.06},{"v":"a","n":3,"t":-0.05},{"v":"a","n":3,"t":0.34},{"v":"a","n":3,"t":0.86},
{"v":"a","n":4,"t":-0.01},{"v":"a","n":4,"t":0.15},{"v":"a","n":4,"t":0.91},
{"v":"a","n":5,"t":-0.19},{"v":"a","n":5,"t":0.15},{"v":"a","n":5,"t":0.39},
{"v":"a","n":6,"t":-0.33},{"v":"a","n":6,"t":-0.25},{"v":"a","n":6,"t":0.47},{"v":"a","n":6,"t":0.49},
{"v":"a","n":7,"t":0.26},{"v":"a","n":7,"t":0.36},{"v":"a","n":7,"t":0.6},
{"v":"a","n":8,"t":0.08},
{"v":"e","n":1,"t":0.85},
{"v":"e","n":2,"t":-0.2},{"v":"e","n":2,"t":0.07},{"v":"e","n":2,"t":0.68},{"v":"e","n":2,"t":0.71},
{"v":"e","n":3,"t":-0.04},{"v":"e","n":3,"t":0.02},{"v":"e","n":3,"t":0.04},
{"v":"e","n":4,"t":0.03},{"v":"e","n":4,"t":0.11},{"v":"e","n":4,"t":0.9},
{"v":"e","n":5,"t":0.3},
{"v":"e","n":6,"t":-0.3},{"v":"e","n":6,"t":-0.16},{"v":"e","n":6,"t":-0.12},{"v":"e","n":6,"t":-0.06},{"v":"e","n":6,"t":0.42},
{"v":"e","n":7,"t":-0.13},{"v":"e","n":7,"t":0.59},
{"v":"e","n":8,"t":-0.04},{"v":"e","n":8,"t":0.12},
{"v":"i","n":1,"t":-0.32},{"v":"i","n":1,"t":0.06},{"v":"i","n":1,"t":0.08},{"v":"i","n":1,"t":0.09},{"v":"i","n":1,"t":0.16},{"v":"i","n":1,"t":0.21},{"v":"i","n":1,"t":0.62},
{"v":"i","n":2,"t":0.1},{"v":"i","n":2,"t":0.12},{"v":"i","n":2,"t":0.17},
{"v":"i","n":3,"t":-0.36},{"v":"i","n":3,"t":-0.2},{"v":"i","n":3,"t":0.04},{"v":"i","n":3,"t":0.11},{"v":"i","n":3,"t":0.13},{"v":"i","n":3,"t":0.28},{"v":"i","n":3,"t":0.91},
{"v":"i","n":4,"t":-0.38},{"v":"i","n":4,"t":0.04},{"v":"i","n":4,"t":0.06},{"v":"i","n":4,"t":0.08},{"v":"i","n":4,"t":0.1},{"v":"i","n":4,"t":0.47},{"v":"i","n":4,"t":0.81},
{"v":"i","n":5,"t":-0.12},{"v":"i","n":5,"t":-0.09},{"v":"i","n":5,"t":0.11},{"v":"i","n":5,"t":0.69},{"v":"i","n":5,"t":0.75},
{"v":"i","n":6,"t":-0.01},{"v":"i","n":6,"t":0.13},
{"v":"i","n":7,"t":-0.12},{"v":"i","n":7,"t":0.06},{"v":"i","n":7,"t":0.12},{"v":"i","n":7,"t":0.13},{"v":"i","n":7,"t":0.15},{"v":"i","n":7,"t":0.16},
{"v":"i","n":8,"t":0.11},{"v":"i","n":8,"t":0.12},{"v":"i","n":8,"t":0.13},{"v":"i","n":8,"t":0.14},{"v":"i","n":8,"t":0.41},{"v":"i","n":8,"t":0.94},
{"v":"u","n":1,"t":0.16},{"v":"u","n":1,"t":0.19},{"v":"u","n":1,"t":0.21},{"v":"u","n":1,"t":0.6},
{"v":"u","n":2,"t":0.27},{"v":"u","n":2,"t":0.29},
{"v":"u","n":3,"t":0.05},{"v":"u","n":3,"t":0.13},{"v":"u","n":3,"t":0.16},{"v":"u","n":3,"t":0.23},{"v":"u","n":3,"t":0.25},{"v":"u","n":3,"t":0.84},{"v":"u","n":3,"t":0.91},
{"v":"u","n":4,"t":-0.06},{"v":"u","n":4,"t":-0.04},{"v":"u","n":4,"t":0.24},{"v":"u","n":4,"t":0.26},{"v":"u","n":4,"t":0.27},{"v":"u","n":4,"t":0.86},{"v":"u","n":4,"t":0.93},{"v":"u","n":4,"t":0.98},
{"v":"u","n":5,"t":0.08},{"v":"u","n":5,"t":0.22},{"v":"u","n":5,"t":0.23},{"v":"u","n":5,"t":0.39},{"v":"u","n":5,"t":0.41},{"v":"u","n":5,"t":0.79},
{"v":"u","n":6,"t":0.31},{"v":"u","n":6,"t":0.32},{"v":"u","n":6,"t":0.34},{"v":"u","n":6,"t":0.42},{"v":"u","n":6,"t":0.75},
{"v":"u","n":7,"t":-0.29},{"v":"u","n":7,"t":0.06},{"v":"u","n":7,"t":0.11},{"v":"u","n":7,"t":0.22},{"v":"u","n":7,"t":0.26},{"v":"u","n":7,"t":0.32},{"v":"u","n":7,"t":0.53},{"v":"u","n":7,"t":0.59},
{"v":"u","n":8,"t":0.07},{"v":"u","n":8,"t":0.13},{"v":"u","n":8,"t":0.16},{"v":"u","n":8,"t":0.26},{"v":"u","n":8,"t":0.28},{"v":"u","n":8,"t":0.3},{"v":"u","n":8,"t":0.78},{"v":"u","n":8,"t":0.8},{"v":"u","n":8,"t":0.88},
{"v":"o","n":1,"t":0.7},
{"v":"o","n":2,"t":-0.31},{"v":"o","n":2,"t":-0.22},{"v":"o","n":2,"t":-0.17},{"v":"o","n":2,"t":-0.15},{"v":"o","n":2,"t":0.43},{"v":"o","n":2,"t":0.51},{"v":"o","n":2,"t":0.57},{"v":"o","n":2,"t":0.96},
{"v":"o","n":3,"t":-0.1},{"v":"o","n":3,"t":0.99},
{"v":"o","n":4,"t":-0.27},{"v":"o","n":4,"t":-0.16},{"v":"o","n":4,"t":0.77},
{"v":"o","n":5,"t":-0.3},{"v":"o","n":5,"t":-0.07},{"v":"o","n":5,"t":0.65},
{"v":"o","n":6,"t":0.12},{"v":"o","n":6,"t":0.76},{"v":"o","n":6,"t":0.94},
{"v":"o","n":7,"t":0.76},
{"v":"o","n":8,"t":-0.31},{"v":"o","n":8,"t":-0.05},{"v":"o","n":8,"t":0.31},{"v":"o","n":8,"t":0.78}
]
},
"vconcat":[
{"data":{"name":"d1"},"spacing":2,"bounds":"flush",
"facet":{"column":{"field":"v","type":"nominal","sort":["a","e","i","u","o"],"title":null,"header":{"labels":false}}},
"spec":{"width":145.3,"height":84,"view":{"fill":"#ffcccc","stroke":"#222","strokeWidth":1.2},
"layer":[
{"transform":[{"filter":"isValid(datum.n)"}],"mark":{"type":"tick","orient":"vertical","thickness":1,"color":"#000","opacity":1},
"encoding":{"x":{"field":"t","type":"quantitative","scale":{"domain":[-0.4,1],"nice":false,"zero":false},"axis":null},"y":{"field":"n","type":"quantitative","scale":{"domain":[0,18.15],"reverse":true,"nice":false,"zero":false},"axis":null},"size":{"value":4}}},
{"transform":[{"filter":"isValid(datum.h)"}],"mark":{"type":"bar","fill":"#00128c","stroke":"#000","strokeWidth":0.6},
"encoding":{"x":{"field":"c","type":"quantitative","bin":{"extent":[-0.4,1],"step":0.1,"nice":false},"scale":{"domain":[-0.4,1],"nice":false,"zero":false},"axis":null},"y":{"aggregate":"sum","field":"h","type":"quantitative","scale":{"domain":[0,241],"nice":false,"zero":false},"axis":null}}},
{"transform":[{"filter":"isValid(datum.p)"}],"mark":{"type":"rule","color":"#333","strokeWidth":1},
"encoding":{"y":{"datum":9.075,"scale":{"domain":[0,18.15],"reverse":true,"nice":false,"zero":false},"axis":null}}},
{"transform":[{"filter":"isValid(datum.p)"}],"mark":{"type":"rule","color":"#ff0000","strokeWidth":1,"strokeDash":[2,1.5]},
"encoding":{"x":{"datum":0,"scale":{"domain":[-0.4,1],"nice":false,"zero":false},"axis":null}}},
{"transform":[{"filter":"isValid(datum.p) && datum.v == 'a'"}],"mark":{"type":"rect","color":"#000"},
"encoding":{"x":{"datum":-0.4935,"scale":{"domain":[-0.4,1],"nice":false,"zero":false},"axis":null},"x2":{"datum":-0.4445},"y":{"datum":0,"scale":{"domain":[0,241],"nice":false,"zero":false},"axis":null},"y2":{"datum":20}}},
{"transform":[{"filter":"isValid(datum.p)"}],"mark":{"type":"text","font":"Liberation Sans","fontSize":32,"baseline":"alphabetic","align":"center","color":"#000"},
"encoding":{"text":{"field":"v"},"x":{"datum":0.3,"scale":{"domain":[-0.4,1],"nice":false,"zero":false},"axis":null},"y":{"datum":-1.63,"scale":{"domain":[0,18.15],"reverse":true,"nice":false,"zero":false},"axis":null}}},
{"transform":[{"filter":"isValid(datum.p) && datum.v == 'a'"}],"mark":{"type":"rule","color":"#ee1c1c","strokeWidth":4.5,"strokeCap":"butt"},
"encoding":{"x":{"datum":-0.32,"scale":{"domain":[-0.4,1],"nice":false,"zero":false},"axis":null},"y":{"datum":-6.24,"scale":{"domain":[0,18.15],"reverse":true,"nice":false,"zero":false},"axis":null},"x2":{"datum":-0.07},"y2":{"datum":-1.46}}},
{"transform":[{"filter":"isValid(datum.p) && datum.v == 'a'"}],"mark":{"type":"point","shape":"triangle-up","filled":true,"size":256,"angle":131,"color":"#ee1c1c","opacity":1},
"encoding":{"x":{"datum":-0.033,"scale":{"domain":[-0.4,1],"nice":false,"zero":false},"axis":null},"y":{"datum":-0.76,"scale":{"domain":[0,18.15],"reverse":true,"nice":false,"zero":false},"axis":null}}}
],
"resolve":{"scale":{"y":"independent"}}}},
{"data":{"name":"d2"},"spacing":2,"bounds":"flush",
"facet":{"column":{"field":"v","type":"nominal","sort":["a","e","i","u","o"],"title":null,"header":{"labels":false}}},
"spec":{"width":145.3,"height":83.6,"view":{"fill":"#ffffcc","stroke":"#222","strokeWidth":1.2},
"layer":[
{"transform":[{"filter":"isValid(datum.n)"}],"mark":{"type":"tick","orient":"vertical","thickness":1,"color":"#000","opacity":1},
"encoding":{"x":{"field":"t","type":"quantitative","scale":{"domain":[-0.4,1],"nice":false,"zero":false},"axis":null},"y":{"field":"n","type":"quantitative","scale":{"domain":[0,18.15],"reverse":true,"nice":false,"zero":false},"axis":null},"size":{"value":4}}},
{"transform":[{"filter":"isValid(datum.h)"}],"mark":{"type":"bar","fill":"#00128c","stroke":"#000","strokeWidth":0.6},
"encoding":{"x":{"field":"c","type":"quantitative","bin":{"extent":[-0.4,1],"step":0.1,"nice":false},"scale":{"domain":[-0.4,1],"nice":false,"zero":false},"axis":null},"y":{"aggregate":"sum","field":"h","type":"quantitative","scale":{"domain":[0,83.7],"nice":false,"zero":false},"axis":null}}},
{"transform":[{"filter":"isValid(datum.p)"}],"mark":{"type":"rule","color":"#333","strokeWidth":1},
"encoding":{"y":{"datum":9.075,"scale":{"domain":[0,18.15],"reverse":true,"nice":false,"zero":false},"axis":null}}},
{"transform":[{"filter":"isValid(datum.p)"}],"mark":{"type":"rule","color":"#ff0000","strokeWidth":1,"strokeDash":[2,1.5]},
"encoding":{"x":{"datum":0,"scale":{"domain":[-0.4,1],"nice":false,"zero":false},"axis":null}}},
{"transform":[{"filter":"isValid(datum.p) && datum.v == 'a'"}],"mark":{"type":"rect","color":"#000"},
"encoding":{"x":{"datum":-0.4935,"scale":{"domain":[-0.4,1],"nice":false,"zero":false},"axis":null},"x2":{"datum":-0.4445},"y":{"datum":0,"scale":{"domain":[0,83.7],"nice":false,"zero":false},"axis":null},"y2":{"datum":20}}}
],
"resolve":{"scale":{"y":"independent"}}}},
{"data":{"name":"d3"},"spacing":2,"bounds":"flush",
"facet":{"column":{"field":"v","type":"nominal","sort":["a","e","i","u","o"],"title":null,"header":{"labels":false}}},
"spec":{"width":145.3,"height":83.4,"view":{"fill":"#ccffcc","stroke":"#222","strokeWidth":1.2},
"layer":[
{"transform":[{"filter":"isValid(datum.n)"}],"mark":{"type":"tick","orient":"vertical","thickness":1,"color":"#000","opacity":1},
"encoding":{"x":{"field":"t","type":"quantitative","scale":{"domain":[-0.4,1],"nice":false,"zero":false},"axis":null},"y":{"field":"n","type":"quantitative","scale":{"domain":[0,18.15],"reverse":true,"nice":false,"zero":false},"axis":null},"size":{"value":4}}},
{"transform":[{"filter":"isValid(datum.h)"}],"mark":{"type":"bar","fill":"#00128c","stroke":"#000","strokeWidth":0.6},
"encoding":{"x":{"field":"c","type":"quantitative","bin":{"extent":[-0.4,1],"step":0.1,"nice":false},"scale":{"domain":[-0.4,1],"nice":false,"zero":false},"axis":null},"y":{"aggregate":"sum","field":"h","type":"quantitative","scale":{"domain":[0,94.3],"nice":false,"zero":false},"axis":null}}},
{"transform":[{"filter":"isValid(datum.p)"}],"mark":{"type":"rule","color":"#333","strokeWidth":1},
"encoding":{"y":{"datum":9.075,"scale":{"domain":[0,18.15],"reverse":true,"nice":false,"zero":false},"axis":null}}},
{"transform":[{"filter":"isValid(datum.p)"}],"mark":{"type":"rule","color":"#ff0000","strokeWidth":1,"strokeDash":[2,1.5]},
"encoding":{"x":{"datum":0,"scale":{"domain":[-0.4,1],"nice":false,"zero":false},"axis":null}}},
{"transform":[{"filter":"isValid(datum.p) && datum.v == 'a'"}],"mark":{"type":"rect","color":"#000"},
"encoding":{"x":{"datum":-0.4935,"scale":{"domain":[-0.4,1],"nice":false,"zero":false},"axis":null},"x2":{"datum":-0.4445},"y":{"datum":0,"scale":{"domain":[0,94.3],"nice":false,"zero":false},"axis":null},"y2":{"datum":20}}}
],
"resolve":{"scale":{"y":"independent"}}}},
{"data":{"name":"d4"},"spacing":2,"bounds":"flush",
"facet":{"column":{"field":"v","type":"nominal","sort":["a","e","i","u","o"],"title":null,"header":{"labels":false}}},
"spec":{"width":145.3,"height":83,"view":{"fill":"#b4c8e6","stroke":"#222","strokeWidth":1.2},
"layer":[
{"transform":[{"filter":"isValid(datum.n)"}],"mark":{"type":"tick","orient":"vertical","thickness":1,"color":"#000","opacity":1},
"encoding":{"x":{"field":"t","type":"quantitative","scale":{"domain":[-0.4,1],"nice":false,"zero":false},"axis":null},"y":{"field":"n","type":"quantitative","scale":{"domain":[0,18.15],"reverse":true,"nice":false,"zero":false},"axis":null},"size":{"value":4}}},
{"transform":[{"filter":"isValid(datum.h)"}],"mark":{"type":"bar","fill":"#00128c","stroke":"#000","strokeWidth":0.6},
"encoding":{"x":{"field":"c","type":"quantitative","bin":{"extent":[-0.4,1],"step":0.1,"nice":false},"scale":{"domain":[-0.4,1],"nice":false,"zero":false},"axis":null},"y":{"aggregate":"sum","field":"h","type":"quantitative","scale":{"domain":[0,75.5],"nice":false,"zero":false},"axis":null}}},
{"transform":[{"filter":"isValid(datum.p)"}],"mark":{"type":"rule","color":"#333","strokeWidth":1},
"encoding":{"y":{"datum":9.075,"scale":{"domain":[0,18.15],"reverse":true,"nice":false,"zero":false},"axis":null}}},
{"transform":[{"filter":"isValid(datum.p)"}],"mark":{"type":"rule","color":"#ff0000","strokeWidth":1,"strokeDash":[2,1.5]},
"encoding":{"x":{"datum":0,"scale":{"domain":[-0.4,1],"nice":false,"zero":false},"axis":null}}},
{"transform":[{"filter":"isValid(datum.p) && datum.v == 'a'"}],"mark":{"type":"rect","color":"#000"},
"encoding":{"x":{"datum":-0.4935,"scale":{"domain":[-0.4,1],"nice":false,"zero":false},"axis":null},"x2":{"datum":-0.4445},"y":{"datum":0,"scale":{"domain":[0,75.5],"nice":false,"zero":false},"axis":null},"y2":{"datum":20}}}
],
"resolve":{"scale":{"y":"independent"}}}},
{"data":{"name":"d5"},"spacing":2,"bounds":"flush",
"facet":{"column":{"field":"v","type":"nominal","sort":["a","e","i","u","o"],"title":null,"header":{"labels":false}}},
"spec":{"width":145.3,"height":83,"view":{"fill":"#cccccc","stroke":"#222","strokeWidth":1.2},
"layer":[
{"transform":[{"filter":"isValid(datum.n)"}],"mark":{"type":"tick","orient":"vertical","thickness":1,"color":"#000","opacity":1},
"encoding":{"x":{"field":"t","type":"quantitative","scale":{"domain":[-0.4,1],"nice":false,"zero":false},"axis":null},"y":{"field":"n","type":"quantitative","scale":{"domain":[0,18.15],"reverse":true,"nice":false,"zero":false},"axis":null},"size":{"value":4}}},
{"transform":[{"filter":"isValid(datum.h)"}],"mark":{"type":"bar","fill":"#00128c","stroke":"#000","strokeWidth":0.6},
"encoding":{"x":{"field":"c","type":"quantitative","bin":{"extent":[-0.4,1],"step":0.1,"nice":false},"scale":{"domain":[-0.4,1],"nice":false,"zero":false},"axis":null},"y":{"aggregate":"sum","field":"h","type":"quantitative","scale":{"domain":[0,93.8],"nice":false,"zero":false},"axis":null}}},
{"transform":[{"filter":"isValid(datum.p)"}],"mark":{"type":"rule","color":"#333","strokeWidth":1},
"encoding":{"y":{"datum":9.075,"scale":{"domain":[0,18.15],"reverse":true,"nice":false,"zero":false},"axis":null}}},
{"transform":[{"filter":"isValid(datum.p)"}],"mark":{"type":"rule","color":"#ff0000","strokeWidth":1,"strokeDash":[2,1.5]},
"encoding":{"x":{"datum":0,"scale":{"domain":[-0.4,1],"nice":false,"zero":false},"axis":null}}},
{"transform":[{"filter":"isValid(datum.p) && datum.v == 'a'"}],"mark":{"type":"rect","color":"#000"},
"encoding":{"x":{"datum":-0.4935,"scale":{"domain":[-0.4,1],"nice":false,"zero":false},"axis":null},"x2":{"datum":-0.4445},"y":{"datum":0,"scale":{"domain":[0,93.8],"nice":false,"zero":false},"axis":null},"y2":{"datum":20}}},
{"transform":[{"filter":"isValid(datum.p) && datum.v == 'a'"}],"mark":{"type":"rule","color":"#000","strokeWidth":4,"strokeCap":"butt"},
"encoding":{"x":{"datum":0,"scale":{"domain":[-0.4,1],"nice":false,"zero":false},"axis":null},"x2":{"datum":1},"y":{"datum":-7.9,"scale":{"domain":[0,93.8],"nice":false,"zero":false},"axis":null}}},
{"transform":[{"filter":"isValid(datum.p) && datum.v == 'a'"}],"mark":{"type":"text","font":"Liberation Serif","fontSize":20,"baseline":"middle","align":"center","color":"#000","text":"1s"},
"encoding":{"x":{"datum":0.45,"scale":{"domain":[-0.4,1],"nice":false,"zero":false},"axis":null},"y":{"datum":-22.5,"scale":{"domain":[0,93.8],"nice":false,"zero":false},"axis":null}}},
{"transform":[{"filter":"isValid(datum.p) && datum.v == 'a'"}],"mark":{"type":"text","font":"Liberation Serif","fontSize":18,"baseline":"middle","align":"center","angle":270,"color":"#000","text":"20"},
"encoding":{"x":{"datum":-0.81,"scale":{"domain":[-0.4,1],"nice":false,"zero":false},"axis":null},"y":{"datum":13.5,"scale":{"domain":[0,93.8],"nice":false,"zero":false},"axis":null}}},
{"transform":[{"filter":"isValid(datum.p) && datum.v == 'a'"}],"mark":{"type":"text","font":"Liberation Serif","fontSize":16,"baseline":"middle","align":"center","angle":270,"color":"#000","text":"spikes/s"},
"encoding":{"x":{"datum":-0.59,"scale":{"domain":[-0.4,1],"nice":false,"zero":false},"axis":null},"y":{"datum":16.9,"scale":{"domain":[0,93.8],"nice":false,"zero":false},"axis":null}}}
],
"resolve":{"scale":{"y":"independent"}}}}
]
}
